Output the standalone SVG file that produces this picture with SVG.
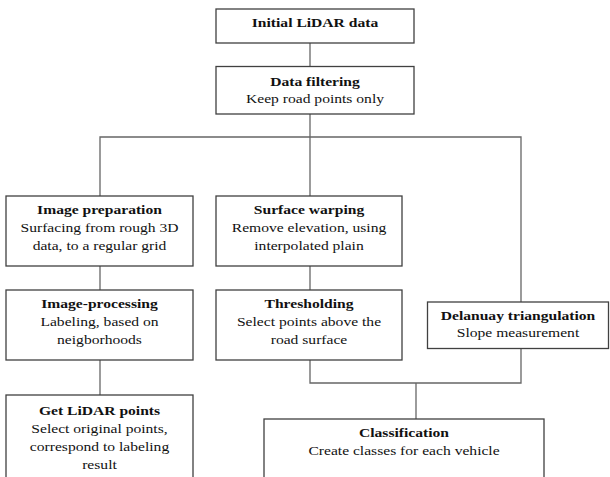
<svg xmlns="http://www.w3.org/2000/svg" width="610" height="477" viewBox="0 0 610 477">
<style>
  .box { fill: #ffffff; stroke: #404040; stroke-width: 1.3; }
  .con { fill: none; stroke: #666666; stroke-width: 1.3; }
  text { font-family: "Liberation Serif", "Times New Roman", serif; font-size: 13px; text-anchor: middle; fill: #111111; }
  .b { font-weight: bold; }
</style>
<rect x="0" y="0" width="610" height="477" fill="#ffffff"/>
<g id="connectors">
  <path class="con" d="M310 43 V66.5"/>
  <path class="con" d="M310 114 V137"/>
  <path class="con" d="M100 196 V137 H521 V302"/>
  <path class="con" d="M310 137 V196"/>
  <path class="con" d="M100 266 V290"/>
  <path class="con" d="M310 266 V290"/>
  <path class="con" d="M100 360 V395"/>
  <path class="con" d="M310 360 V383 H521 V348"/>
  <path class="con" d="M416 383 V419"/>
</g>
<g id="initial" transform="translate(315 0)">
  <rect class="box" x="-99" y="9" width="198" height="34"/>
  <g transform="scale(1.2 1)"><text class="b" x="0" y="27">Initial LiDAR data</text></g>
</g>
<g id="filtering" transform="translate(315 0)">
  <rect class="box" x="-99" y="66.5" width="198" height="47.5"/>
  <g transform="scale(1.2 1)">
    <text class="b" x="0" y="86">Data filtering</text>
    <text x="0" y="103">Keep road points only</text>
  </g>
</g>
<g id="imageprep" transform="translate(99.5 0)">
  <rect class="box" x="-93.5" y="196" width="187" height="70"/>
  <g transform="scale(1.2 1)">
    <text class="b" x="0" y="214">Image preparation</text>
    <text x="0" y="232">Surfacing from rough 3D</text>
    <text x="0" y="250">data, to a regular grid</text>
  </g>
</g>
<g id="warping" transform="translate(309 0)">
  <rect class="box" x="-93" y="196" width="186" height="70"/>
  <g transform="scale(1.2 1)">
    <text class="b" x="0" y="214">Surface warping</text>
    <text x="0" y="232">Remove elevation, using</text>
    <text x="0" y="250">interpolated plain</text>
  </g>
</g>
<g id="imageproc" transform="translate(99.5 0)">
  <rect class="box" x="-93.5" y="290" width="187" height="70"/>
  <g transform="scale(1.2 1)">
    <text class="b" x="0" y="308.5">Image-processing</text>
    <text x="0" y="326.5">Labeling, based on</text>
    <text x="0" y="344.5">neigborhoods</text>
  </g>
</g>
<g id="thresholding" transform="translate(309 0)">
  <rect class="box" x="-93" y="290" width="186" height="70"/>
  <g transform="scale(1.2 1)">
    <text class="b" x="0" y="308.5">Thresholding</text>
    <text x="0" y="326.5">Select points above the</text>
    <text x="0" y="344.5">road surface</text>
  </g>
</g>
<g id="delaunay" transform="translate(518 0)">
  <rect class="box" x="-90.5" y="302" width="181" height="46.5"/>
  <g transform="scale(1.2 1)">
    <text class="b" x="0" y="320.5">Delanuay triangulation</text>
    <text x="0" y="337">Slope measurement</text>
  </g>
</g>
<g id="getlidar" transform="translate(99.5 0)">
  <rect class="box" x="-93.5" y="395" width="187" height="90"/>
  <g transform="scale(1.2 1)">
    <text class="b" x="0" y="415">Get LiDAR points</text>
    <text x="0" y="433">Select original points,</text>
    <text x="0" y="451">correspond to labeling</text>
    <text x="0" y="469">result</text>
  </g>
</g>
<g id="classification" transform="translate(404 0)">
  <rect class="box" x="-140" y="419" width="280" height="70"/>
  <g transform="scale(1.2 1)">
    <text class="b" x="0" y="437">Classification</text>
    <text x="0" y="455">Create classes for each vehicle</text>
  </g>
</g>
</svg>
